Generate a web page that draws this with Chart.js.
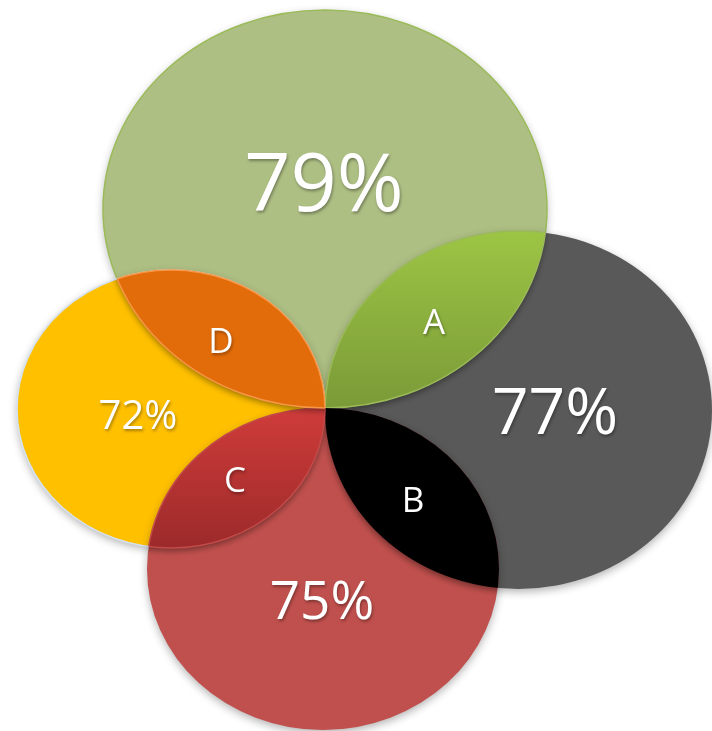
<!DOCTYPE html>
<html>
<head>
<meta charset="utf-8">
<script src="https://cdn.jsdelivr.net/npm/chart.js@4"></script>
<style>
    html, body { margin: 0; padding: 0; background: #ffffff; }
    #wrap { width: 712px; height: 731px; }
    #fontProbe { position: absolute; left: -9999px; font-family: "Open Sans"; }
</style>
</head>
<body>
<span id="fontProbe">79% ABCD</span>
<div id="wrap"><canvas id="vennChart" width="712" height="731"></canvas></div>
<script>
// Данные: четыре множества (эллипсы) в координатах осей
var setLabels = ['79%', '77%', '75%', '72%'];
var setValues = [79, 77, 75, 72];
var centerX = [325, 518.5, 323, 171];
var centerY = [209, 410, 569, 409];
var radiusX = [222, 193.5, 176, 154];
var radiusY = [199, 179, 161, 139];
var valueX = [324, 555, 322, 138];
var valueY = [182, 411, 600, 415];

// Пересечения: [заливаемое множество, множество-обрезка]
var lensLabels = ['A', 'B', 'C', 'D'];
var lensPairs = [[0, 1], [1, 2], [3, 2], [0, 3]];
var lensX = [434, 413, 235, 221];
var lensY = [322, 500, 480, 341];

var setColors = ['#AEBF84', '#595959', '#C0504D', '#FFC000'];
var setBorders = ['#9BBB59', null, null, '#D6E3F2'];
var lensColors = [['#9DC544', '#7A9A38'], ['#000000', '#000000'], ['#CF3C3A', '#9C2A2A'], ['#E36C0A', '#E36C0A']];
var lensBorders = ['#9BBB59', null, '#C24A48', '#F79646'];
var valueFontSizes = [81, 64, 53, 40];

function ellipsePath(ctx, chart, i) {
    var xs = chart.scales.x, ys = chart.scales.y;
    var cx = xs.getPixelForValue(centerX[i]);
    var cy = ys.getPixelForValue(centerY[i]);
    var rx = Math.abs(xs.getPixelForValue(centerX[i] + radiusX[i]) - cx);
    var ry = Math.abs(ys.getPixelForValue(centerY[i] + radiusY[i]) - cy);
    ctx.beginPath();
    ctx.ellipse(cx, cy, rx, ry, 0, 0, Math.PI * 2);
    ctx.closePath();
}

function drawText(ctx, text, x, y, size) {
    ctx.save();
    ctx.font = size + 'px "Open Sans", sans-serif';
    ctx.textAlign = 'center';
    ctx.textBaseline = 'alphabetic';
    ctx.fillStyle = '#ffffff';
    ctx.shadowColor = 'rgba(0, 0, 0, 0.35)';
    ctx.shadowBlur = 3;
    ctx.shadowOffsetX = 1;
    ctx.shadowOffsetY = 2;
    ctx.fillText(text, x, y + size * 0.357);
    ctx.restore();
}

var vennPlugin = {
    id: 'venn',
    beforeDatasetsDraw: function(chart) {
        var ctx = chart.ctx;
        var ys = chart.scales.y;

        // Эллипсы
        [0, 1, 3, 2].forEach(function(i) {
            ctx.save();
            ellipsePath(ctx, chart, i);
            ctx.shadowColor = 'rgba(0, 0, 0, 0.3)';
            ctx.shadowBlur = 8;
            ctx.shadowOffsetY = 3;
            ctx.fillStyle = setColors[i];
            ctx.fill();
            ctx.restore();
            if (setBorders[i]) {
                ctx.save();
                ellipsePath(ctx, chart, i);
                ctx.lineWidth = 1.5;
                ctx.strokeStyle = setBorders[i];
                ctx.stroke();
                ctx.restore();
            }
        });

        // Пересечения
        lensPairs.forEach(function(pair, k) {
            var a = pair[0], b = pair[1];
            var top = Math.max(centerY[a] - radiusY[a], centerY[b] - radiusY[b]);
            var bottom = Math.min(centerY[a] + radiusY[a], centerY[b] + radiusY[b]);
            var grad = ctx.createLinearGradient(0, ys.getPixelForValue(top), 0, ys.getPixelForValue(bottom));
            grad.addColorStop(0, lensColors[k][0]);
            grad.addColorStop(1, lensColors[k][1]);

            ctx.save();
            ellipsePath(ctx, chart, b);
            ctx.clip();
            ellipsePath(ctx, chart, a);
            ctx.shadowColor = 'rgba(0, 0, 0, 0.4)';
            ctx.shadowBlur = 6;
            ctx.shadowOffsetY = 3;
            ctx.fillStyle = grad;
            ctx.fill();
            ctx.shadowColor = 'transparent';
            if (lensBorders[k]) {
                ctx.lineWidth = 1.5;
                ctx.strokeStyle = lensBorders[k];
                ctx.stroke();
                ctx.restore();
                ctx.save();
                ellipsePath(ctx, chart, a);
                ctx.clip();
                ellipsePath(ctx, chart, b);
                ctx.lineWidth = 1.5;
                ctx.strokeStyle = lensBorders[k];
                ctx.stroke();
            }
            ctx.restore();
        });
    },
    afterDatasetsDraw: function(chart) {
        var ctx = chart.ctx;
        var xs = chart.scales.x, ys = chart.scales.y;
        setLabels.forEach(function(t, i) {
            drawText(ctx, t, xs.getPixelForValue(valueX[i]), ys.getPixelForValue(valueY[i]), valueFontSizes[i]);
        });
        lensLabels.forEach(function(t, k) {
            drawText(ctx, t, xs.getPixelForValue(lensX[k]), ys.getPixelForValue(lensY[k]), 35);
        });
    }
};

function buildChart() {
    var ctx = document.getElementById('vennChart').getContext('2d');
    new Chart(ctx, {
        type: 'scatter',
        data: {
            datasets: [{
                label: 'Множества',
                data: centerX.map(function(x, i) {
                    return { x: x, y: centerY[i], v: setValues[i] };
                }),
                pointRadius: 0,
                pointHoverRadius: 0
            }]
        },
        options: {
            responsive: false,
            animation: false,
            devicePixelRatio: 1,
            layout: { padding: 0 },
            scales: {
                x: { type: 'linear', min: 0, max: 712, display: false },
                y: { type: 'linear', min: 0, max: 731, reverse: true, display: false }
            },
            plugins: {
                legend: { display: false },
                tooltip: { enabled: false }
            }
        },
        plugins: [vennPlugin]
    });
}

// Ждём шрифт, потом рисуем
if (document.fonts && document.fonts.load) {
    document.fonts.load('40px "Open Sans"').then(buildChart, buildChart);
} else {
    buildChart();
}
</script>
</body>
</html>
